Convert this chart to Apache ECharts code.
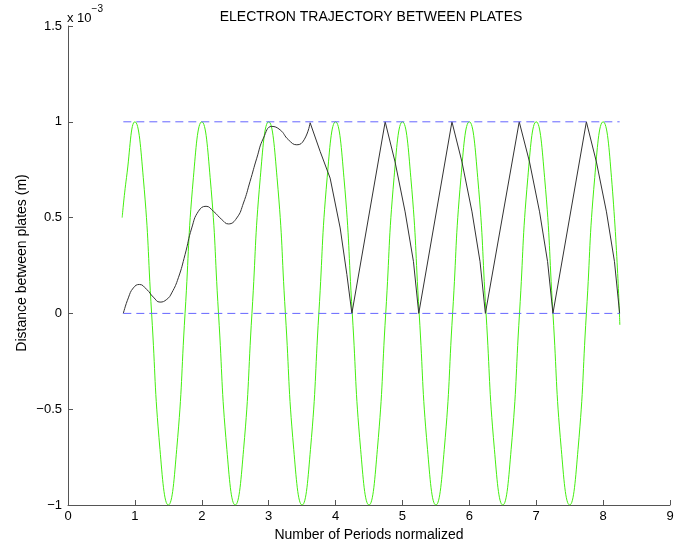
<!DOCTYPE html>
<html>
<head>
<meta charset="utf-8">
<script src="https://cdn.jsdelivr.net/npm/echarts@6/dist/echarts.min.js"></script>
<style>
  html, body { margin: 0; padding: 0; background: #fff; }
  #chart { width: 691px; height: 549px; }
</style>
</head>
<body>
<div id="chart"></div>
<script>
// Distances in units of 1e-3 m; x in normalized periods.
const xTicks = [0, 1, 2, 3, 4, 5, 6, 7, 8, 9];
const yTicks = [-1, -0.5, 0, 0.5, 1, 1.5];

// Plate field (green)
const fieldWave = [
  [0.81, 0.5], [0.875, 0.71],
  [1, 1], [1.125, 0.71], [1.25, 0], [1.375, -0.71], [1.5, -1], [1.625, -0.71], [1.75, 0], [1.875, 0.71],
  [2, 1], [2.125, 0.71], [2.25, 0], [2.375, -0.71], [2.5, -1], [2.625, -0.71], [2.75, 0], [2.875, 0.71],
  [3, 1], [3.125, 0.71], [3.25, 0], [3.375, -0.71], [3.5, -1], [3.625, -0.71], [3.75, 0], [3.875, 0.71],
  [4, 1], [4.125, 0.71], [4.25, 0], [4.375, -0.71], [4.5, -1], [4.625, -0.71], [4.75, 0], [4.875, 0.71],
  [5, 1], [5.125, 0.71], [5.25, 0], [5.375, -0.71], [5.5, -1], [5.625, -0.71], [5.75, 0], [5.875, 0.71],
  [6, 1], [6.125, 0.71], [6.25, 0], [6.375, -0.71], [6.5, -1], [6.625, -0.71], [6.75, 0], [6.875, 0.71],
  [7, 1], [7.125, 0.71], [7.25, 0], [7.375, -0.71], [7.5, -1], [7.625, -0.71], [7.75, 0], [7.875, 0.71],
  [8, 1], [8.125, 0.71], [8.25, -0.06]
];

// Electron path: smooth drift phase, then the bouncing phase
const driftPath = [
  [0.827, 0], [0.902, 0.081], [0.977, 0.133], [1.067, 0.151], [1.177, 0.125],
  [1.276, 0.085], [1.376, 0.059], [1.476, 0.073], [1.551, 0.107], [1.65, 0.186],
  [1.75, 0.307], [1.85, 0.446], [1.95, 0.533], [2.064, 0.559], [2.174, 0.533],
  [2.299, 0.49], [2.398, 0.467], [2.523, 0.498], [2.623, 0.576], [2.722, 0.689],
  [2.822, 0.81], [2.922, 0.915], [3.047, 0.976], [3.171, 0.958], [3.296, 0.906],
  [3.421, 0.88], [3.53, 0.906], [3.62, 0.995]
];
const bouncePath = [
  [3.62, 0.995], [3.77, 0.845], [3.919, 0.706], [4.069, 0.446], [4.169, 0.203], [4.244, 0],
  [4.742, 1.0], [4.89, 0.79], [5.04, 0.53], [5.165, 0.27], [5.244, 0],
  [5.74, 1.0], [5.89, 0.79], [6.04, 0.53], [6.16, 0.27], [6.24, 0],
  [6.746, 1.0], [6.90, 0.79], [7.05, 0.53], [7.17, 0.27], [7.25, 0],
  [7.75, 1.0], [7.90, 0.79], [8.05, 0.53], [8.17, 0.27], [8.247, 0]
];

// Plate positions
const plateBottom = [[0.827, 0], [8.247, 0]];
const plateTop = [[0.827, 1], [8.247, 1]];

const FONT = 'Liberation Sans, Arial, Helvetica, sans-serif';
const chart = echarts.init(document.getElementById('chart'), null, { renderer: 'canvas' });

const fmtY = v => {
  const s = String(Math.abs(v));
  return v < 0 ? '\u2212' + s : s;
};

chart.setOption({
  animation: false,
  backgroundColor: '#ffffff',
  title: {
    text: 'ELECTRON TRAJECTORY BETWEEN PLATES',
    left: 366, top: 5, textAlign: 'center',
    textStyle: { fontFamily: FONT, fontSize: 14, fontWeight: 'normal', color: '#000' }
  },
  graphic: [{
    type: 'text', left: 67, top: 4,
    style: {
      text: '{b|x 10}{s|\u22123}',
      rich: {
        b: { fontFamily: FONT, fontSize: 13, fill: '#000', verticalAlign: 'bottom', padding: [8, 0, 0, 0] },
        s: { fontFamily: FONT, fontSize: 10, fill: '#000', verticalAlign: 'top' }
      }
    }
  }, {
    type: 'text', x: 22, y: 263, rotation: Math.PI / 2,
    style: {
      text: 'Distance between plates (m)',
      fontFamily: FONT, fontSize: 14, fill: '#000',
      align: 'center', verticalAlign: 'middle'
    }
  }],
  grid: { left: 68, right: 21, top: 26, bottom: 44, containLabel: false },
  xAxis: {
    type: 'value', min: 0, max: 9, interval: 1,
    name: 'Number of Periods normalized', nameLocation: 'middle', nameGap: 22,
    nameTextStyle: { fontFamily: FONT, fontSize: 14, color: '#000' },
    axisLine: { onZero: false, lineStyle: { color: '#555', width: 1 } },
    axisTick: { inside: true, length: 5, lineStyle: { color: '#555' } },
    axisLabel: { fontFamily: FONT, fontSize: 13, color: '#000', margin: 5,
      formatter: v => xTicks.includes(v) ? String(v) : '' },
    splitLine: { show: false }
  },
  yAxis: {
    type: 'value', min: -1, max: 1.5, interval: 0.5,
    axisLine: { show: true, onZero: false, lineStyle: { color: '#555', width: 1 } },
    axisTick: { show: true, inside: true, length: 5, lineStyle: { color: '#555' } },
    axisLabel: { fontFamily: FONT, fontSize: 13, color: '#000', margin: 6,
      formatter: v => yTicks.includes(v) ? fmtY(v) : '' },
    splitLine: { show: false }
  },
  series: [
    { type: 'line', data: fieldWave, smooth: 0.5, showSymbol: false,
      lineStyle: { color: '#44ee11', width: 1 } },
    { type: 'line', data: driftPath, smooth: 0.5, showSymbol: false,
      lineStyle: { color: '#333', width: 1 } },
    { type: 'line', data: bouncePath, smooth: false, showSymbol: false,
      lineStyle: { color: '#333', width: 1 } },
    { type: 'line', data: plateBottom, showSymbol: false,
      lineStyle: { color: '#6666ff', width: 1, type: [8, 5] } },
    { type: 'line', data: plateTop, showSymbol: false,
      lineStyle: { color: '#6666ff', width: 1, type: [8, 5] } }
  ]
});
</script>
</body>
</html>
